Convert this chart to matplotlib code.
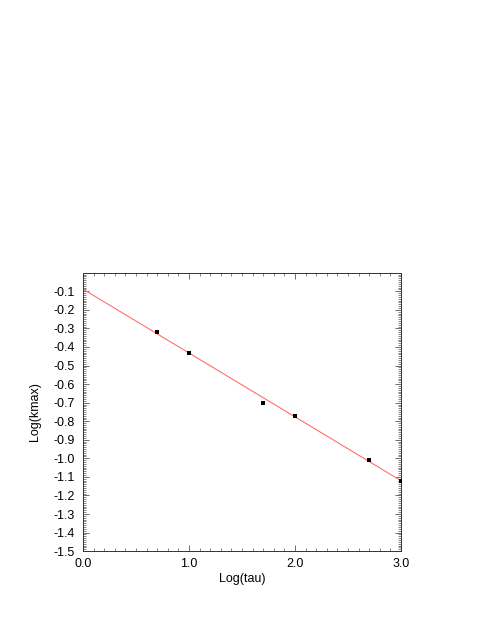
import numpy as np
import matplotlib
matplotlib.use("Agg")
import matplotlib.pyplot as plt
from matplotlib.ticker import MultipleLocator

# 資料
log_tau = [0.7, 1.0, 1.7, 2.0, 2.7, 3.0]
log_kmax = [-0.32, -0.43, -0.70, -0.77, -1.01, -1.12]

plt.rcParams['font.family'] = ['Liberation Sans', 'DejaVu Sans']

fig = plt.figure(figsize=(4.85, 6.27), dpi=100)
ax = fig.add_axes([0.171, 0.121, 0.656, 0.444])

# 直線擬合
slope, intercept = np.polyfit(log_tau, log_kmax, 1)
xs = np.array([0.0, 3.0])
ax.plot(xs, intercept + slope * xs, color='#ff7070', lw=0.8, zorder=2)
ax.scatter(log_tau, log_kmax, s=5, marker='s', color='black', linewidths=0, zorder=3)

ax.set_xlim(0, 3)
ax.set_ylim(-1.5, 0)
ax.xaxis.set_minor_locator(MultipleLocator(0.1))
ax.yaxis.set_minor_locator(MultipleLocator(0.01))
ax.set_xticks([0, 1, 2, 3])
ax.set_xticklabels(['0.0', '1.0', '2.0', '3.0'])
yt = np.round(np.arange(-1.5, -0.05, 0.1), 1)
ax.set_yticks(yt)
ax.set_yticklabels([f"{v:.1f}" for v in yt])

ax.tick_params(which='both', direction='in', top=True, right=True, labelsize=9, color='#555555')
ax.tick_params(which='major', length=4, width=0.6)
ax.tick_params(which='minor', length=2, width=0.5)
ax.tick_params(axis='y', which='major', pad=6)
ax.tick_params(axis='x', which='major', pad=5)
for s in ax.spines.values():
    s.set_linewidth(0.7)
    s.set_color('#333333')

ax.set_xlabel("Log(tau)", fontsize=9, labelpad=2)
ax.set_ylabel("Log(kmax)", fontsize=9, labelpad=9)

fig.savefig("out.png", dpi=100)
